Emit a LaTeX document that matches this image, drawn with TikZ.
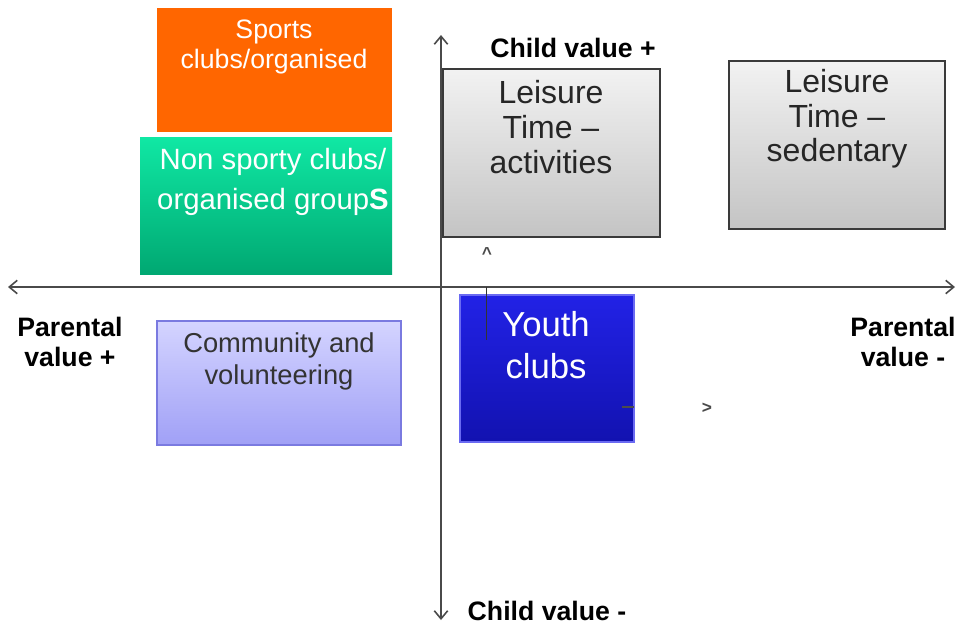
\documentclass[tikz,border=0pt]{standalone}
\usepackage{fontspec}
\setmainfont{Liberation Sans}
\usetikzlibrary{arrows.meta}
\definecolor{axisgray}{HTML}{4A4A4A}
\definecolor{sportsor}{HTML}{FF6600}
\definecolor{greentop}{HTML}{10E8A4}
\definecolor{greenbot}{HTML}{00A872}
\definecolor{graytop}{HTML}{F2F2F2}
\definecolor{graybot}{HTML}{C4C4C4}
\definecolor{graybord}{HTML}{3A3A3A}
\definecolor{lavtop}{HTML}{D4D4FF}
\definecolor{lavbot}{HTML}{A0A0F6}
\definecolor{lavbord}{HTML}{7A7AE0}
\definecolor{bluetop}{HTML}{2222E6}
\definecolor{bluebot}{HTML}{1212B0}
\definecolor{bluebord}{HTML}{6A6AF2}
\tikzset{
  box/.style={rectangle, inner sep=0pt, outer sep=0pt},
  boxtext/.style={align=center, inner sep=0pt},
  axislabel/.style={align=center, inner sep=0pt, font=\fontsize{20}{23}\selectfont\bfseries, text=black},
  axisline/.style={draw=axisgray, line width=1.6pt, {Straight Barb[length=6pt,width=10pt,line width=1.2pt]}-{Straight Barb[length=6pt,width=10pt,line width=1.2pt]}},
  stray/.style={inner sep=0pt, font=\fontsize{13}{13}\selectfont\bfseries, text=axisgray}
}
\begin{document}
\begin{tikzpicture}[x=0.75pt,y=-0.75pt]
\useasboundingbox (0,0) rectangle (958,626);
% axes
\coordinate (hl) at (8,287);
\coordinate (hr) at (955,287);
\coordinate (vt) at (441,35);
\coordinate (vb) at (441,620);
\draw[axisline] (hl) -- (hr);
\draw[axisline] (vb) -- (vt);
% boxes
\node[box, fill=sportsor, minimum width=235*0.75pt, minimum height=124*0.75pt] (sports) at (274.5,70) {};
\node[boxtext, text=white, font=\fontsize{20}{22.5}\selectfont] (sportst) at (274,47) {Sports\\clubs/organised};
\node[box, top color=greentop, bottom color=greenbot, minimum width=252*0.75pt, minimum height=137*0.75pt] (nonsport) at (266,205.5) {};
\node[boxtext, text=white, font=\fontsize{22}{30}\selectfont] (nonsportt) at (273,182) {Non sporty clubs/\\organised group\textbf{S}};
\node[box, top color=graytop, bottom color=graybot, draw=graybord, line width=1pt, minimum width=217*0.75pt, minimum height=168*0.75pt] (lact) at (551.5,153) {};
\node[boxtext, text=black!85, font=\fontsize{24}{26}\selectfont] (lactt) at (551,127) {Leisure\\Time --\\activities};
\node[box, top color=graytop, bottom color=graybot, draw=graybord, line width=1pt, minimum width=216*0.75pt, minimum height=168*0.75pt] (lsed) at (837,145) {};
\node[boxtext, text=black!85, font=\fontsize{24}{26}\selectfont] (lsedt) at (837,119) {Leisure\\Time --\\sedentary};
\node[box, top color=lavtop, bottom color=lavbot, draw=lavbord, line width=1pt, minimum width=244*0.75pt, minimum height=124*0.75pt] (comm) at (279,383) {};
\node[boxtext, text=black!80, font=\fontsize{20.5}{24}\selectfont] (commt) at (279,361) {Community and\\volunteering};
\node[box, top color=bluetop, bottom color=bluebot, draw=bluebord, line width=1pt, minimum width=174*0.75pt, minimum height=147*0.75pt] (youth) at (547,368.5) {};
\node[boxtext, text=white, font=\fontsize{26}{31.5}\selectfont] (youtht) at (546,345) {Youth\\clubs};
% stray marks
\coordinate (tk1) at (486,287);
\coordinate (tk2) at (486,340);
\draw[black!80, line width=0.6pt] (tk1) -- (tk2);
\coordinate (tk3) at (622,407);
\coordinate (tk4) at (634,407);
\draw[black!70, line width=0.8pt] (tk3) -- (tk4);
\node[stray] (caret) at (487,254) {\textasciicircum};
\node[stray] (gt) at (707,408) {>};
% axis labels
\node[axislabel] (cplus) at (573,48) {Child value +};
\node[axislabel] (cminus) at (547,611) {Child value -};
\node[axislabel] (pplus) at (70,342) {Parental\\value +};
\node[axislabel] (pminus) at (903,342) {Parental\\value -};
\end{tikzpicture}
\end{document}
